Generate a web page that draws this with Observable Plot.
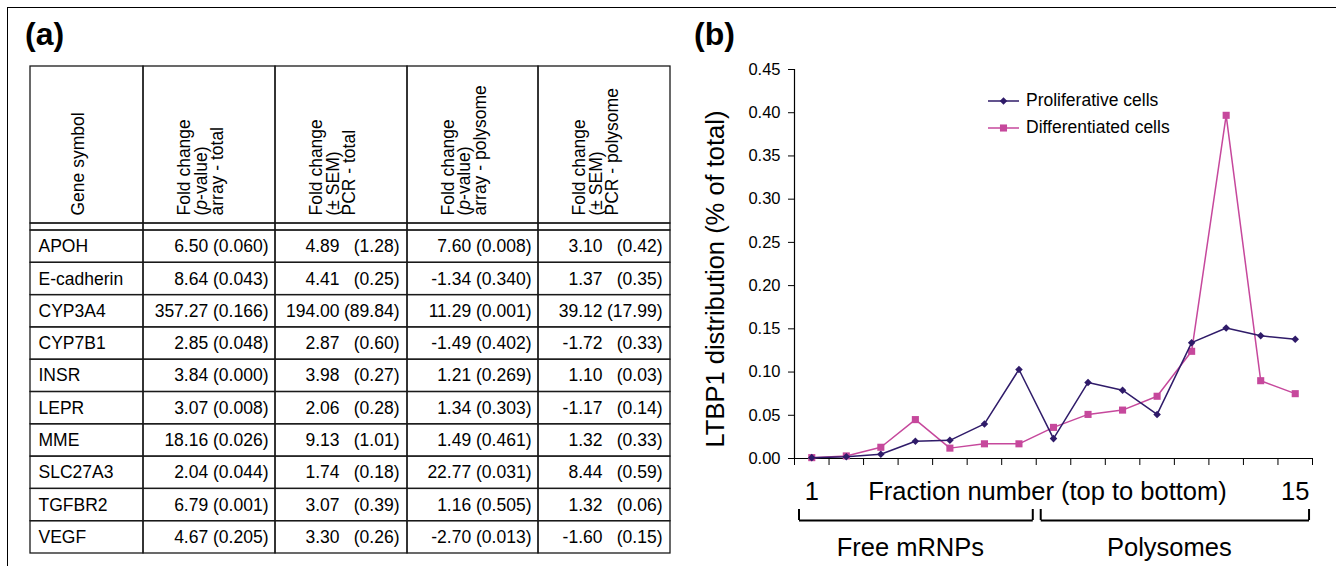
<!DOCTYPE html>
<html><head><meta charset="utf-8">
<script src="https://cdn.jsdelivr.net/npm/d3@7"></script>
<script src="https://cdn.jsdelivr.net/npm/@observablehq/plot@0.6"></script>
<style>
html,body{margin:0;padding:0;background:#fff;}
#fig{position:relative;width:1336px;height:566px;overflow:hidden;font-family:"Liberation Sans",Arial,sans-serif;color:#000;}
#frame{position:absolute;left:7px;top:7px;width:1400px;height:700px;border-top:1.5px solid #000;border-left:1.5px solid #000;}
.panel{position:absolute;font-weight:bold;font-size:32px;line-height:1;}
#table{position:absolute;left:0;top:0;}
#chart{position:absolute;left:680px;top:0;}
#legend{position:absolute;left:988px;top:87px;font-size:17.5px;}
#legend .row{display:flex;align-items:center;height:27px;}
#legend svg{margin-right:6px;}
</style></head>
<body>
<div id="fig">
  <div id="frame"></div>
  <div class="panel" style="left:25px;top:18px;">(a)</div>
  <div class="panel" style="left:694px;top:18px;">(b)</div>
  <div id="table"></div>
  <div id="chart"></div>
  <div id="legend"></div>
</div>
<script>
// ---------- Table (a) data ----------
const headers = [
  "Gene symbol",
  "Fold change\n(p-value)\narray - total",
  "Fold change\n(± SEM)\nPCR - total",
  "Fold change\n(p-value)\narray - polysome",
  "Fold change\n(± SEM)\nPCR - polysome"
];
const genes = ["APOH","E-cadherin","CYP3A4","CYP7B1","INSR","LEPR","MME","SLC27A3","TGFBR2","VEGF"];
const arrayTotalFold = [6.50, 8.64, 357.27, 2.85, 3.84, 3.07, 18.16, 2.04, 6.79, 4.67];
const arrayTotalP    = [0.060, 0.043, 0.166, 0.048, 0.000, 0.008, 0.026, 0.044, 0.001, 0.205];
const pcrTotalFold   = [4.89, 4.41, 194.00, 2.87, 3.98, 2.06, 9.13, 1.74, 3.07, 3.30];
const pcrTotalSEM    = [1.28, 0.25, 89.84, 0.60, 0.27, 0.28, 1.01, 0.18, 0.39, 0.26];
const arrayPolyFold  = [7.60, -1.34, 11.29, -1.49, 1.21, 1.34, 1.49, 22.77, 1.16, -2.70];
const arrayPolyP     = [0.008, 0.340, 0.001, 0.402, 0.269, 0.303, 0.461, 0.031, 0.505, 0.013];
const pcrPolyFold    = [3.10, 1.37, 39.12, -1.72, 1.10, -1.17, 1.32, 8.44, 1.32, -1.60];
const pcrPolySEM     = [0.42, 0.35, 17.99, 0.33, 0.03, 0.14, 0.33, 0.59, 0.06, 0.15];

// ---------- Chart (b) data ----------
const fractions = [1,2,3,4,5,6,7,8,9,10,11,12,13,14,15];
const proliferative  = [0.001,0.002,0.005,0.020,0.021,0.040,0.103,0.023,0.088,0.079,0.051,0.134,0.151,0.142,0.138];
const differentiated = [0.001,0.003,0.013,0.045,0.012,0.017,0.017,0.036,0.051,0.056,0.072,0.124,0.397,0.090,0.075];
const seriesNames = ["Proliferative cells","Differentiated cells"];
const seriesColors = ["#2f1b69","#c6489c"];
const seriesSymbols = ["diamond2","square"];
const yTicks = [0,0.05,0.10,0.15,0.20,0.25,0.30,0.35,0.40,0.45];
const xTickLabels = [1, 15];
const xTitle = "Fraction number (top to bottom)";
const yTitle = "LTBP1 distribution (% of total)";
const groups = [{label:"Free mRNPs", from:1, to:7},{label:"Polysomes", from:8, to:15}];

const FONT = "'Liberation Sans', Arial, sans-serif";

// ---------- build table ----------
const nCols = headers.length;
const nRows = genes.length + 2; // header + spacer + data
const cells = [];
for (let r = 0; r < nRows; r++) for (let c = 0; c < nCols; c++) cells.push({r, c});
const rowOf = i => i + 2.5;
const arrTxt = (f, p) => f.toFixed(2) + " (" + p.toFixed(3) + ")";
const FS = 17.5;

const tablePlot = Plot.plot({
  width: 690, height: 566,
  x: {type: "linear", domain: [0,1,2,3,4,5], range: [30,143,275,407,538,670], axis: null},
  y: {type: "linear", domain: [0,1,2,12], range: [66,223,230,553], axis: null},
  style: {fontFamily: FONT, color: "#000", background: "transparent", overflow: "visible"},
  marks: [
    Plot.rect(cells, {x1: "c", x2: d => d.c + 1, y1: "r", y2: d => d.r + 1, fill: "none", stroke: "#1a1a1a", strokeWidth: 1.3}),
    Plot.text(headers, {x: (d, i) => i + 0.5, y: 1, rotate: -90, textAnchor: "start", lineAnchor: "middle", lineHeight: 0.93, dx: -8, dy: -8, fontSize: FS, fill: "#000"}),
    Plot.text(genes, {x: 0, y: (d, i) => rowOf(i), dx: 8, textAnchor: "start", fontSize: FS, fill: "#000"}),
    Plot.text(genes, {x: 2, y: (d, i) => rowOf(i), text: (d, i) => arrTxt(arrayTotalFold[i], arrayTotalP[i]), dx: -7, textAnchor: "end", fontSize: FS, fill: "#000"}),
    Plot.text(genes, {x: 3, y: (d, i) => rowOf(i), text: (d, i) => pcrTotalFold[i].toFixed(2), dx: -68, textAnchor: "end", fontSize: FS, fill: "#000"}),
    Plot.text(genes, {x: 3, y: (d, i) => rowOf(i), text: (d, i) => "(" + pcrTotalSEM[i].toFixed(2) + ")", dx: -8, textAnchor: "end", fontSize: FS, fill: "#000"}),
    Plot.text(genes, {x: 4, y: (d, i) => rowOf(i), text: (d, i) => arrTxt(arrayPolyFold[i], arrayPolyP[i]), dx: -7, textAnchor: "end", fontSize: FS, fill: "#000"}),
    Plot.text(genes, {x: 5, y: (d, i) => rowOf(i), text: (d, i) => pcrPolyFold[i].toFixed(2), dx: -68, textAnchor: "end", fontSize: FS, fill: "#000"}),
    Plot.text(genes, {x: 5, y: (d, i) => rowOf(i), text: (d, i) => "(" + pcrPolySEM[i].toFixed(2) + ")", dx: -8, textAnchor: "end", fontSize: FS, fill: "#000"})
  ]
});
// italic p in "(p-value)"
d3.select(tablePlot).selectAll("tspan").each(function() {
  if (this.textContent === "(p-value)") {
    this.textContent = "(";
    const it = document.createElementNS("http://www.w3.org/2000/svg", "tspan");
    it.setAttribute("font-style", "italic");
    it.textContent = "p";
    this.appendChild(it);
    this.appendChild(document.createTextNode("-value)"));
  }
});
document.getElementById("table").appendChild(tablePlot);

// ---------- build chart ----------
const rows = fractions.flatMap((f, i) => [
  {series: seriesNames[0], f, v: proliferative[i]},
  {series: seriesNames[1], f, v: differentiated[i]}
]);
const bounds = fractions.map(f => f - 0.5).concat([fractions[fractions.length - 1] + 0.5]);
const bracketEnds = groups.flatMap(g => [g.from - 0.37, g.to + 0.4]);

const chart = Plot.plot({
  width: 656, height: 566,
  marginTop: 69, marginBottom: 108, marginLeft: 114, marginRight: 24,
  style: {fontFamily: FONT, color: "#000", background: "transparent", overflow: "visible"},
  x: {domain: [bounds[0], bounds[bounds.length - 1]], axis: null},
  y: {domain: [0, 0.45], axis: null},
  color: {domain: seriesNames, range: seriesColors},
  symbol: {domain: seriesNames, range: seriesSymbols},
  marks: [
    Plot.ruleX([bounds[0]], {stroke: "#000", strokeWidth: 1.2}),
    Plot.ruleY([0], {stroke: "#000", strokeWidth: 1.2}),
    Plot.axisY({ticks: yTicks, tickFormat: d => d.toFixed(2), tickSize: 6, tickPadding: 8, fontSize: 16.5, label: null, fill: "#000"}),
    Plot.axisX({ticks: bounds, tickSize: 7, tickFormat: () => "", label: null}),
    Plot.axisX({ticks: xTickLabels, tickSize: 0, tickPadding: 23, fontSize: 25.5, label: null, fill: "#000"}),
    Plot.text([{t: xTitle, x: d3.mean(fractions)}], {x: "x", y: 0, text: "t", dy: 33, dx: -6, fontSize: 25.5, fill: "#000"}),
    Plot.text([yTitle], {frameAnchor: "left", textAnchor: "middle", rotate: -90, dx: -79, dy: 15, fontSize: 25.5, fill: "#000"}),
    Plot.link(groups, {x1: d => d.from - 0.37, x2: d => d.to + 0.4, y1: 0, y2: 0, dy: 62, stroke: "#000", strokeWidth: 2}),
    Plot.ruleX(bracketEnds, {y1: 0, y2: 0, insetTop: -11, dy: 62, stroke: "#000", strokeWidth: 2}),
    Plot.text(groups, {x: d => (d.from + d.to) / 2, y: 0, text: "label", dy: 89, dx: -5, fontSize: 25.5, fill: "#000"}),
    Plot.line(rows.filter(d => d.series === seriesNames[1]), {x: "f", y: "v", stroke: "series", strokeWidth: 1.5}),
    Plot.dot(rows.filter(d => d.series === seriesNames[1]), {x: "f", y: "v", fill: "series", symbol: "series", r: 4}),
    Plot.line(rows.filter(d => d.series === seriesNames[0]), {x: "f", y: "v", stroke: "series", strokeWidth: 1.5}),
    Plot.dot(rows.filter(d => d.series === seriesNames[0]), {x: "f", y: "v", fill: "series", symbol: "series", r: 3.4})
  ]
});
document.getElementById("chart").appendChild(chart);

// ---------- legend ----------
const legend = d3.select("#legend");
const symTypes = {diamond2: d3.symbolDiamond2, square: d3.symbolSquare};
const symR = [3.4, 4];
seriesNames.forEach((name, i) => {
  const row = legend.append("div").attr("class", "row");
  const svg = row.append("svg").attr("width", 32).attr("height", 14);
  svg.append("line").attr("x1", 0).attr("x2", 31).attr("y1", 7).attr("y2", 7)
    .attr("stroke", seriesColors[i]).attr("stroke-width", 1.5);
  svg.append("path").attr("transform", "translate(15.5,7)")
    .attr("d", d3.symbol(symTypes[seriesSymbols[i]], Math.PI * symR[i] * symR[i])())
    .attr("fill", seriesColors[i]);
  row.append("span").text(name);
});
</script>
</body></html>
